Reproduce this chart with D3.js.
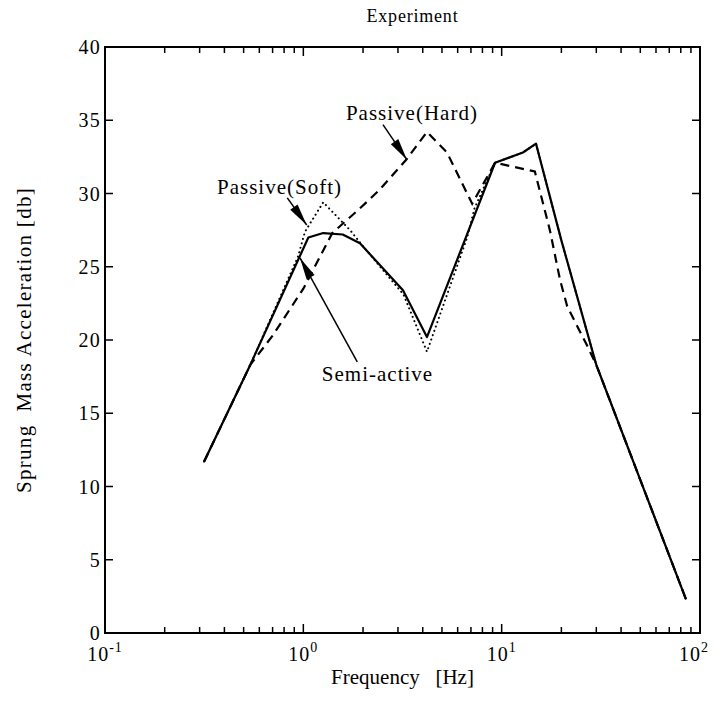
<!DOCTYPE html>
<html><head><meta charset="utf-8">
<script src="https://cdn.jsdelivr.net/npm/d3@7/dist/d3.min.js"></script>
<style>body{margin:0;background:#fff}svg{display:block}text{font-family:"Liberation Serif","DejaVu Serif",serif;fill:#000}</style>
</head><body><svg id="c" width="715" height="717"></svg>
<script>
// ---- data ----
const semiActive = [[0.316,11.7],[0.54,18.3],[1.06,27.0],[1.26,27.3],[1.58,27.2],[1.93,26.6],[3.18,23.4],[4.2,20.2],[9.26,32.1],[12.8,32.8],[14.9,33.4],[20,26.8],[30,18.3],[85,2.3]];
const passiveSoft = [[0.316,11.7],[0.54,18.3],[0.94,25.7],[1.02,27.4],[1.26,29.4],[1.72,27.5],[2.0,26.4],[3.2,23.1],[4.2,19.2],[6.7,27.0],[7.3,29.0],[9.26,32.1],[12.8,32.8],[14.9,33.4],[20,26.8],[30,18.3],[85,2.3]];
const passiveHard = [[0.316,11.7],[0.54,18.3],[0.7,20.3],[1.0,23.5],[1.4,27.3],[1.9,28.9],[2.4,30.2],[3.3,32.3],[4.2,34.2],[5.3,32.8],[7.1,29.3],[9.26,32.1],[14.7,31.5],[17.5,27.5],[19.7,24.1],[21.4,22.3],[27,19.6],[30,18.3],[85,2.3]];
const yTicks = [0,5,10,15,20,25,30,35,40];
const xDecades = [{b:"10",e:"-1",v:0.1},{b:"10",e:"0",v:1},{b:"10",e:"1",v:10},{b:"10",e:"2",v:100}];
const title = "Experiment";
const xLabel = "Frequency   [Hz]";
const yLabel = "Sprung  Mass Acceleration [db]";
const notes = [
  {text:"Passive(Hard)", tx:1.64, ty:35.0, from:[2.52,34.7], to:[3.33,32.3]},
  {text:"Passive(Soft)", tx:0.367, ty:30.0, from:[0.83,29.7], to:[1.04,27.85]},
  {text:"Semi-active", tx:1.24, ty:17.2, from:[1.87,18.5], to:[0.962,25.6]}
];

// ---- layout ----
const L=105,R=700,T=47,B=633;
const svg=d3.select("#c");
const x=d3.scaleLog().domain([0.1,100]).range([L,R]);
const y=d3.scaleLinear().domain([0,40]).range([B,T]);

// minor ticks
const minors=[];
for(let d=0.1; d<100; d*=10){ for(let k=2;k<=9;k++) minors.push(d*k); }
const g=svg.append("g");
minors.forEach(m=>{
  g.append("line").attr("x1",x(m)).attr("x2",x(m)).attr("y1",B).attr("y2",B-6).attr("stroke","#000").attr("stroke-width",1.5);
  g.append("line").attr("x1",x(m)).attr("x2",x(m)).attr("y1",T).attr("y2",T+6).attr("stroke","#000").attr("stroke-width",1.5);
});
[1,10].forEach(m=>{
  g.append("line").attr("x1",x(m)).attr("x2",x(m)).attr("y1",B).attr("y2",B-9).attr("stroke","#000").attr("stroke-width",1.5);
  g.append("line").attr("x1",x(m)).attr("x2",x(m)).attr("y1",T).attr("y2",T+9).attr("stroke","#000").attr("stroke-width",1.5);
});
yTicks.forEach(t=>{
  g.append("line").attr("x1",L).attr("x2",L+8).attr("y1",y(t)).attr("y2",y(t)).attr("stroke","#000").attr("stroke-width",1.5);
  g.append("line").attr("x1",R).attr("x2",R-8).attr("y1",y(t)).attr("y2",y(t)).attr("stroke","#000").attr("stroke-width",1.5);
  g.append("text").attr("x",L-4).attr("y",y(t)+7).attr("text-anchor","end").attr("font-size",20).attr("letter-spacing",1.2).text(t);
});
// frame
svg.append("rect").attr("x",L).attr("y",T).attr("width",R-L).attr("height",B-T).attr("fill","none").attr("stroke","#000").attr("stroke-width",2);

// x tick labels
xDecades.forEach(d=>{
  const t=svg.append("text").attr("x",d.v===100?x(d.v)-6:x(d.v)).attr("y",B+28).attr("text-anchor","middle").attr("font-size",20).attr("letter-spacing",1);
  t.append("tspan").text(d.b);
  t.append("tspan").attr("dy",-9).attr("font-size",14).text(d.e);
});

// lines
const line=d3.line().x(d=>x(d[0])).y(d=>y(d[1]));
svg.append("path").datum(passiveSoft).attr("d",line).attr("fill","none").attr("stroke","#000").attr("stroke-width",2).attr("stroke-dasharray","0.1 4.5").attr("stroke-linecap","round");
svg.append("path").datum(passiveHard).attr("d",line).attr("fill","none").attr("stroke","#000").attr("stroke-width",2.2).attr("stroke-dasharray","9 6");
svg.append("path").datum(semiActive).attr("d",line).attr("fill","none").attr("stroke","#000").attr("stroke-width",2.2).attr("stroke-linejoin","round");

// annotations
notes.forEach(n=>{
  svg.append("text").attr("x",x(n.tx)).attr("y",y(n.ty)).attr("font-size",21).attr("letter-spacing",1).text(n.text);
  const x1=x(n.from[0]),y1=y(n.from[1]),x2=x(n.to[0]),y2=y(n.to[1]);
  svg.append("line").attr("x1",x1).attr("y1",y1).attr("x2",x2).attr("y2",y2).attr("stroke","#000").attr("stroke-width",1.5);
  const a=Math.atan2(y2-y1,x2-x1), Ln=22, W=4.5;
  const bx=x2-Ln*Math.cos(a), by=y2-Ln*Math.sin(a);
  const px=-Math.sin(a)*W, py=Math.cos(a)*W;
  svg.append("path").attr("d",`M${x2},${y2}L${bx+px},${by+py}L${bx-px},${by-py}Z`).attr("fill","#000");
});

// titles
svg.append("text").attr("x",(L+R)/2+10).attr("y",22).attr("text-anchor","middle").attr("font-size",18).attr("letter-spacing",0.8).text(title);
svg.append("text").attr("x",(L+R)/2).attr("y",684).attr("text-anchor","middle").attr("font-size",21).style("white-space","pre").text(xLabel);
svg.append("text").attr("transform",`translate(31,${(T+B)/2}) rotate(-90)`).attr("text-anchor","middle").attr("font-size",21).attr("letter-spacing",1.3).style("white-space","pre").text(yLabel);
</script></body></html>
